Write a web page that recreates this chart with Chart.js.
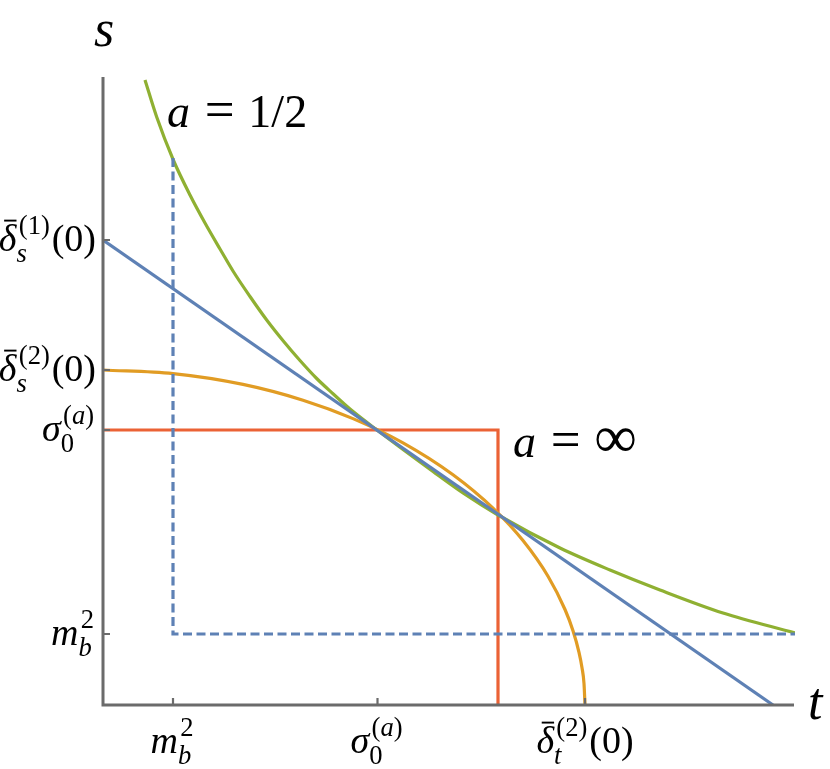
<!DOCTYPE html>
<html><head><meta charset="utf-8">
<script src="https://cdn.jsdelivr.net/npm/chart.js@4.4.1/dist/chart.umd.min.js"></script>
<style>html,body{margin:0;padding:0;background:#fff;}#wrap{width:830px;height:769px;position:relative;}</style>
</head><body><div id="wrap"><canvas id="c"></canvas></div>
<script>
// ---- data (t = horizontal, s = vertical) ----
const tBlue   = [0, 670];
const sBlue   = [465, 0];
const tGreen  = [42, 53.7, 70.3, 87, 102, 117, 130.3, 147, 163.7, 180.3, 197, 213.7, 230.3, 247, 274, 330, 360, 395, 457, 507, 557, 620, 692];
const sGreen  = [625, 588, 545, 510, 482, 456, 433.5, 408.5, 385, 364, 344.5, 326.5, 311, 296, 275, 233.5, 212, 190, 157, 135, 115, 92, 72];
const tOrange = [0, 70, 140, 200, 250, 300, 350, 390, 420, 445, 462, 470, 476, 479, 481, 482];
const sOrange = [335, 331.4, 320.6, 304.8, 286.4, 262.2, 230.3, 196.9, 164.4, 128.7, 95.5, 74.3, 52.7, 37.3, 21.5, 0];
const tRed    = [0, 395, 395];
const sRed    = [275, 275, 0];
const tDash   = [70, 70, 692];
const sDash   = [547, 71, 71];
const tMax = 692, sMax = 628;
const xTickValues = [70, 274.5, 482];
const yTickValues = [465, 335, 275, 71];
const xTickLabels = [
  [{t:'m',i:1},{sup:[{t:'2'}],sub:[{t:'b',i:1}]}],
  [{t:'σ',i:1},{sup:[{t:'('},{t:'a',i:1},{t:')'}],sub:[{t:'0'}]}],
  [{t:'δ',i:1,bar:1},{sup:[{t:'(2)'}],sub:[{t:'t',i:1}]},{t:'(0)'}]
];
const yTickLabels = [
  [{t:'δ',i:1,bar:1},{sup:[{t:'(1)'}],sub:[{t:'s',i:1}]},{t:'(0)'}],
  [{t:'δ',i:1,bar:1},{sup:[{t:'(2)'}],sub:[{t:'s',i:1}]},{t:'(0)'}],
  [{t:'σ',i:1},{sup:[{t:'('},{t:'a',i:1},{t:')'}],sub:[{t:'0'}]}],
  [{t:'m',i:1},{sup:[{t:'2'}],sub:[{t:'b',i:1}]}]
];
const axisTitleX = 't', axisTitleY = 's';
const noteHalf = [{t:'a',i:1},{g:0.32},{t:'=',k:1.15},{g:0.3},{t:'1/2'}];
const noteInf  = [{t:'a',i:1},{g:0.32},{t:'=',k:1.15},{g:0.3},{t:'∞',k:1.3}];

// ---- rendering helpers ----
const FONT = '"Liberation Serif","Times New Roman",serif';
const fontStr = (it, px) => (it ? 'italic ' : '') + px + 'px ' + FONT;
function tokWidth(ctx, toks, px){
  let w = 0;
  for (const k of toks){
    if (k.g !== undefined){ w += k.g*px; continue; }
    if (k.sup || k.sub){
      const sp = px*0.7;
      const a = k.sup ? tokWidth(ctx, k.sup, sp) + px*0.06 : 0;
      const b = k.sub ? tokWidth(ctx, k.sub, sp) : 0;
      w += Math.max(a, b) + px*0.05; continue;
    }
    ctx.font = fontStr(k.i, px*(k.k||1));
    w += ctx.measureText(k.t).width;
  }
  return w;
}
function drawToks(ctx, toks, x, y, px){
  const x0 = x;
  for (const k of toks){
    if (k.g !== undefined){ x += k.g*px; continue; }
    if (k.sup || k.sub){
      const sp = px*0.7, both = k.sup && k.sub;
      let a = 0, b = 0;
      if (k.sup) a = drawToks(ctx, k.sup, x + px*0.06, y - px*0.45, sp) + px*0.06;
      if (k.sub) b = drawToks(ctx, k.sub, x, y + px*(both ? 0.3 : 0.22), sp);
      x += Math.max(a, b) + px*0.05; continue;
    }
    const p = px*(k.k||1);
    ctx.font = fontStr(k.i, p);
    ctx.fillText(k.t, x, y);
    const w = ctx.measureText(k.t).width;
    if (k.bar){
      ctx.save();
      ctx.lineWidth = px*0.05;
      ctx.beginPath();
      ctx.moveTo(x + w*0.3, y - px*0.8);
      ctx.lineTo(x + w*1.0, y - px*0.8);
      ctx.stroke();
      ctx.restore();
    }
    x += w;
  }
  return x - x0;
}

const axisPlugin = {
  id: 'axes',
  afterDatasetsDraw(chart){
    const {ctx, chartArea: ca, scales: {x, y}} = chart;
    ctx.save();
    ctx.strokeStyle = '#6b6b6b';
    ctx.lineCap = 'butt';
    ctx.lineWidth = 3;
    ctx.beginPath();
    ctx.moveTo(ca.left, ca.top);
    ctx.lineTo(ca.left, ca.bottom + 1.5);
    ctx.moveTo(ca.left - 1.5, ca.bottom);
    ctx.lineTo(ca.right - 1, ca.bottom);
    ctx.stroke();
    ctx.lineWidth = 2.2;
    ctx.beginPath();
    xTickValues.forEach(v => { const p = x.getPixelForValue(v); ctx.moveTo(p, ca.bottom); ctx.lineTo(p, ca.bottom - 7); });
    yTickValues.forEach(v => { const p = y.getPixelForValue(v); ctx.moveTo(ca.left, p); ctx.lineTo(ca.left + 7, p); });
    ctx.stroke();

    ctx.fillStyle = '#000';
    ctx.strokeStyle = '#000';
    ctx.textBaseline = 'alphabetic';
    ctx.textAlign = 'left';
    const TP = 38;
    xTickValues.forEach((v, i) => {
      const p = x.getPixelForValue(v);
      const w = tokWidth(ctx, xTickLabels[i], TP);
      drawToks(ctx, xTickLabels[i], p - w/2, ca.bottom + 48, TP);
    });
    yTickValues.forEach((v, i) => {
      const p = y.getPixelForValue(v);
      const w = tokWidth(ctx, yTickLabels[i], TP);
      drawToks(ctx, yTickLabels[i], ca.left - 7 - w, p + 11, TP);
    });
    // axis titles
    ctx.font = fontStr(1, 52);
    ctx.textAlign = 'center';
    ctx.fillText(axisTitleY, ca.left + 1, 46);
    ctx.textAlign = 'left';
    ctx.fillText(axisTitleX, ca.right + 13, ca.bottom + 14);
    // notes
    drawToks(ctx, noteHalf, x.getPixelForValue(64), y.getPixelForValue(578), 46);
    drawToks(ctx, noteInf, x.getPixelForValue(410), y.getPixelForValue(248), 46);
    ctx.restore();
  }
};

const mk = (ts, ss) => ts.map((t, i) => ({x: t, y: ss[i]}));
const LW = 3.2;
new Chart(document.getElementById('c'), {
  type: 'line',
  data: {
    datasets: [
      {data: mk(tDash, sDash), borderColor: '#5E81B5', borderWidth: LW, borderDash: [9, 4.5], tension: 0, pointRadius: 0, fill: false},
      {data: mk(tBlue, sBlue), borderColor: '#5E81B5', borderWidth: LW, tension: 0, pointRadius: 0, fill: false},
      {data: mk(tOrange, sOrange), borderColor: '#E19C24', borderWidth: LW, cubicInterpolationMode: 'monotone', pointRadius: 0, fill: false},
      {data: mk(tGreen, sGreen), borderColor: '#8FB032', borderWidth: LW, cubicInterpolationMode: 'monotone', pointRadius: 0, fill: false},
      {data: mk(tRed, sRed), borderColor: '#EB6235', borderWidth: LW, tension: 0, pointRadius: 0, fill: false}
    ]
  },
  options: {
    responsive: true,
    maintainAspectRatio: false,
    animation: false,
    layout: {padding: {left: 103, right: 35, top: 77, bottom: 64}},
    scales: {
      x: {type: 'linear', min: 0, max: tMax, display: false},
      y: {type: 'linear', min: 0, max: sMax, display: false}
    },
    plugins: {legend: {display: false}, tooltip: {enabled: false}}
  },
  plugins: [axisPlugin]
});
</script></body></html>
